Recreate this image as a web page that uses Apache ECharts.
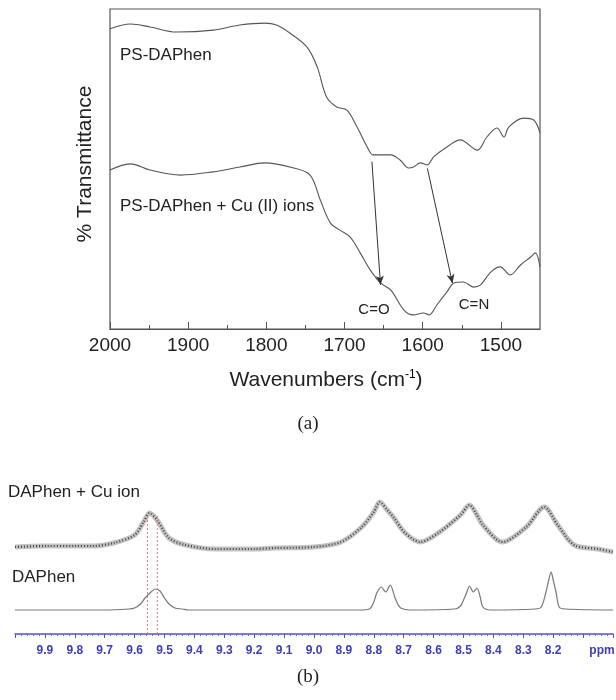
<!DOCTYPE html>
<html><head><meta charset="utf-8">
<script src="https://cdn.jsdelivr.net/npm/echarts@6/dist/echarts.min.js"></script>
<style>html,body{margin:0;padding:0;background:#fff}#c{width:616px;height:700px}</style>
</head><body><div id="c"></div>
<script>
// Panel (a): FTIR spectra (wavenumber cm-1, relative transmittance)
const irWaveA = [2000,1974,1949,1915,1868,1834,1802,1787,1770,1748,1735,1723,1710,1697,1684,1671,1663,1641,1629,1618,1612,1603,1594,1586,1569,1552,1530,1518,1505,1496,1490,1471,1458,1450];
const irTransA = [93.8,95.3,94.4,92.8,93.4,95.0,95.6,95.0,92.5,88.1,81.9,72.5,69.4,68.4,63.1,56.9,54.4,54.4,52.8,50.3,50.6,51.9,51.3,53.8,56.9,59.1,55.9,60.0,62.8,60.0,63.1,65.9,65.3,61.2];
const irWaveB = [2000,1974,1949,1910,1868,1834,1802,1765,1744,1731,1718,1706,1693,1680,1667,1654,1641,1624,1612,1599,1592,1582,1569,1560,1548,1535,1526,1513,1501,1488,1475,1462,1456,1450];
const irTransB = [49.7,51.6,49.7,48.1,49.1,50.6,51.9,50.3,48.1,40.3,33.1,30.9,28.8,23.8,18.4,14.4,12.2,5.9,4.4,5.0,4.4,7.5,11.6,14.4,14.7,13.1,13.8,17.8,19.4,16.9,20.0,22.5,23.8,19.4];
const irXTicks = [1500,1600,1700,1800,1900,2000];
const irXMinor = [1550,1650,1750,1850,1950];
// arrows: [fromWave, fromT, toWave, toT]
const arrowCO = [1665,52.3,1654,13.8];
const arrowCN = [1594,50.2,1562,14.3];

// Panel (b): 1H NMR spectra (ppm, intensity)
const nmrPpmCu = [10.0,9.9,9.8,9.74,9.67,9.6,9.57,9.55,9.525,9.485,9.43,9.33,9.2,9.13,9.0,8.91,8.84,8.8,8.78,8.755,8.735,8.695,8.645,8.58,8.51,8.48,8.455,8.435,8.37,8.29,8.23,8.185,8.13,8.05,8.0];
const nmrIntCu = [87,88,88,88,91,99,112,121,114,96,89,85,85,86,87,92,107,122,132,124,117,101,92,102,119,129,119,109,92,107,127,109,89,85,82];
const nmrPpm = [10.0,9.7,9.62,9.6,9.58,9.565,9.545,9.53,9.515,9.5,9.485,9.465,9.44,9.42,8.85,8.815,8.8,8.79,8.775,8.76,8.745,8.73,8.72,8.71,8.68,8.53,8.51,8.5,8.49,8.48,8.467,8.455,8.445,8.435,8.41,8.26,8.24,8.225,8.215,8.207,8.2,8.19,8.18,8.16,8.0];
const nmrInt = [24,24,25,26,30,36,42,45,43,36,30,26,25,24,24,25,32,41,47,42,49,37,30,26,24,25,28,34,41,48,42,46,38,27,24,25,27,41,54,62,54,41,27,25,24];
const nmrRefLines = [9.557,9.524];
const nmrRefTop = 119;
const nmrLabelMin = 8.2, nmrLabelMax = 9.9;

const chart = echarts.init(document.getElementById('c'));
const pairs = (xs, ys) => xs.map((x, i) => [x, ys[i]]);
const txt = '#222';
const sans = 'Liberation Sans, Arial, sans-serif';
const serif = 'Liberation Serif, Times New Roman, serif';
const blue = '#3d3db8';

function arrowLine(a) {
  return {
    type: 'line', xAxisIndex: 0, yAxisIndex: 0, data: [], silent: true,
    markLine: {
      silent: true, animation: false,
      symbol: ['none', 'arrow'], symbolSize: [6, 9],
      lineStyle: { color: '#333', width: 1, type: 'solid' },
      label: { show: false },
      data: [[{ coord: [a[0], a[1]] }, { coord: [a[2], a[3]] }]]
    }
  };
}

const option = {
  animation: false,
  backgroundColor: '#fff',
  grid: [
    { left: 110, top: 9, width: 430, height: 320, show: true, borderColor: '#555', borderWidth: 1.2, backgroundColor: 'transparent' },
    { left: 15, right: 3, top: 490, height: 144 }
  ],
  xAxis: [
    { type: 'value', gridIndex: 0, min: 1450, max: 2000, inverse: true,
      axisLine: { show: true, lineStyle: { color: '#555', width: 1.2 } },
      axisTick: { show: true, inside: true, length: 7, customValues: irXTicks, lineStyle: { color: '#555' } },
      axisLabel: { customValues: irXTicks, fontSize: 19, color: txt, margin: 7, fontFamily: sans, formatter: v => String(v) },
      splitLine: { show: false } },
    { type: 'value', gridIndex: 0, min: 1450, max: 2000, inverse: true, position: 'bottom',
      axisLine: { show: false },
      axisTick: { show: true, inside: true, length: 4, customValues: irXMinor, lineStyle: { color: '#555' } },
      axisLabel: { show: false }, splitLine: { show: false } },
    { type: 'value', gridIndex: 1, min: 8.0, max: 10.0, inverse: true, interval: 0.1,
      axisLine: { show: true, lineStyle: { color: '#5050c8', width: 1.5 } },
      axisTick: { show: true, length: 4, lineStyle: { color: '#5050c8' } },
      minorTick: { show: true, splitNumber: 5, length: 2, lineStyle: { color: '#6a6ad0' } },
      axisLabel: { fontSize: 12, fontWeight: 'bold', color: blue, margin: 11, fontFamily: sans,
        formatter: v => (v >= nmrLabelMin - 1e-6 && v <= nmrLabelMax + 1e-6) ? v.toFixed(1) : '' },
      splitLine: { show: false } }
  ],
  yAxis: [
    { type: 'value', gridIndex: 0, min: 0, max: 100, show: false },
    { type: 'value', gridIndex: 1, min: 0, max: 144, show: false }
  ],
  series: [
    { type: 'line', xAxisIndex: 0, yAxisIndex: 0, data: pairs(irWaveA, irTransA), showSymbol: false, smooth: 0.35,
      lineStyle: { color: '#555', width: 1.1 } },
    { type: 'line', xAxisIndex: 0, yAxisIndex: 0, data: pairs(irWaveB, irTransB), showSymbol: false, smooth: 0.35,
      lineStyle: { color: '#555', width: 1.1 } },
    arrowLine(arrowCO),
    arrowLine(arrowCN),
    { type: 'line', xAxisIndex: 2, yAxisIndex: 1, data: pairs(nmrPpmCu, nmrIntCu), showSymbol: false, smooth: 0.3,
      lineStyle: { color: '#777', width: 5, opacity: 0.45 } },
    { type: 'line', xAxisIndex: 2, yAxisIndex: 1, data: pairs(nmrPpmCu, nmrIntCu), showSymbol: false, smooth: 0.3,
      lineStyle: { color: '#444', width: 2.2, type: [1, 2] } },
    { type: 'line', xAxisIndex: 2, yAxisIndex: 1, data: pairs(nmrPpm, nmrInt), showSymbol: false, smooth: 0.3,
      lineStyle: { color: '#777', width: 1.2 } },
    ...nmrRefLines.map(p => ({
      type: 'line', xAxisIndex: 2, yAxisIndex: 1, data: [[p, 0], [p, nmrRefTop]], showSymbol: false,
      lineStyle: { color: '#e08070', width: 1, type: [2, 2] }
    }))
  ],
  graphic: [
    { type: 'text', left: 120, top: 47, style: { text: 'PS-DAPhen', font: '17px ' + sans, fill: txt } },
    { type: 'text', left: 120, top: 198, style: { text: 'PS-DAPhen + Cu (II) ions', font: '17px ' + sans, fill: txt } },
    { type: 'text', x: 374, y: 310, style: { text: 'C=O', font: '15px ' + sans, fill: txt, align: 'center', verticalAlign: 'middle' } },
    { type: 'text', x: 474, y: 305, style: { text: 'C=N', font: '15px ' + sans, fill: txt, align: 'center', verticalAlign: 'middle' } },
    { type: 'text', x: 85, y: 164, rotation: Math.PI / 2,
      style: { text: '% Transmittance', font: '21px ' + sans, fill: txt, align: 'center', verticalAlign: 'middle' } },
    { type: 'text', x: 326, y: 380,
      style: { text: '{a|Wavenumbers (cm}{s|-1}{a|)}', align: 'center', verticalAlign: 'middle',
        rich: { a: { fontSize: 21, fontFamily: sans, fill: txt, color: txt }, s: { fontSize: 12, fontFamily: sans, color: txt, verticalAlign: 'top', padding: [0, 0, 10, 0] } } } },
    { type: 'text', x: 308, y: 424, style: { text: '(a)', font: '19px ' + serif, fill: txt, align: 'center', verticalAlign: 'middle' } },
    { type: 'text', left: 8, top: 484, style: { text: 'DAPhen + Cu ion', font: '17px ' + sans, fill: txt } },
    { type: 'text', left: 12, top: 569, style: { text: 'DAPhen', font: '17px ' + sans, fill: txt } },
    { type: 'text', x: 602, y: 651, style: { text: 'ppm', font: 'bold 12px ' + sans, fill: blue, align: 'center', verticalAlign: 'middle' } },
    { type: 'text', x: 308, y: 677, style: { text: '(b)', font: '19px ' + serif, fill: txt, align: 'center', verticalAlign: 'middle' } }
  ]
};
chart.setOption(option);
</script></body></html>
